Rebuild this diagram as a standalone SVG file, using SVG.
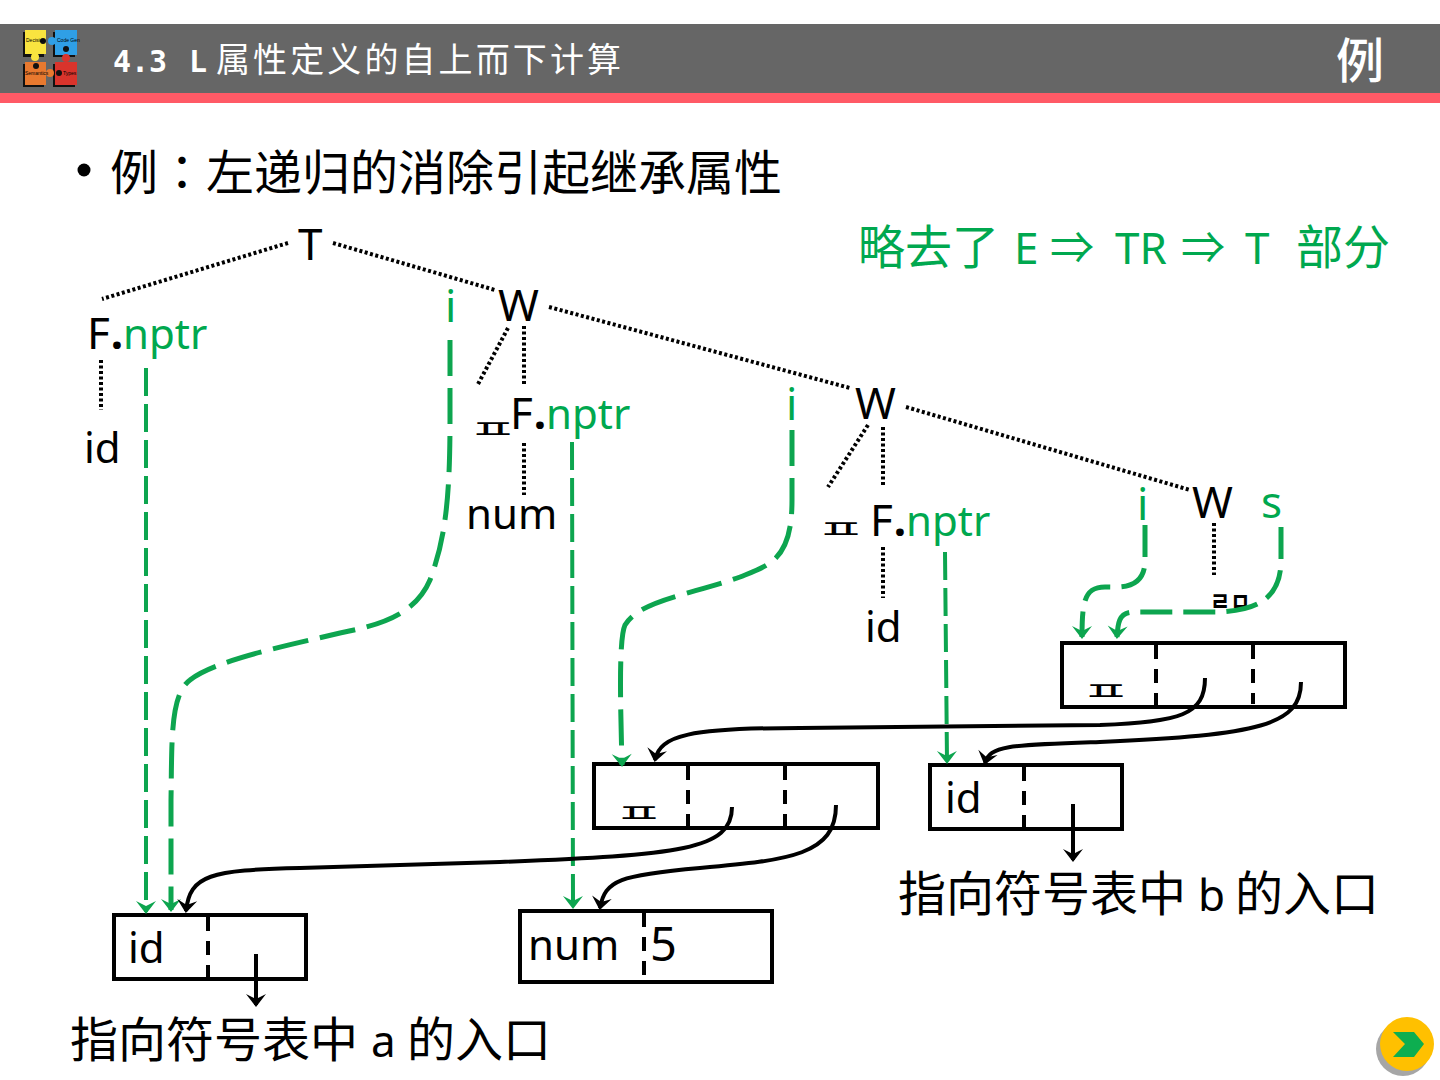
<svg xmlns="http://www.w3.org/2000/svg" width="1440" height="1080" viewBox="0 0 1440 1080">
<style>
text{font-family:"Noto Sans","Noto Sans CJK SC",sans-serif;fill:#000;font-size:44px}
.lc{font-size:42px}
.g{fill:#00a84f}
.cn{font-family:"Noto Sans CJK SC",sans-serif;font-size:48px}
.la{font-family:"Noto Sans",sans-serif;font-size:44px}
.ar{font-family:"Noto Sans CJK SC",sans-serif;font-size:44px}
.pt{font-weight:700}
.pl{font-family:"Noto Sans CJK KR",sans-serif;font-size:54px;font-weight:400}
.lg{font-family:"Liberation Sans",sans-serif;font-size:5px}
.gc{fill:none;stroke:#0da54f;stroke-width:5;stroke-dasharray:36 12}
.gs{fill:none;stroke:#0da54f;stroke-width:4;stroke-dasharray:28 8}
.bc{fill:none;stroke:#000;stroke-width:4}
.dot{fill:none;stroke:#000;stroke-width:4;stroke-dasharray:3 2.5}
.box{fill:#fff;stroke:#000;stroke-width:4}
.dv{fill:none;stroke:#000;stroke-width:4;stroke-dasharray:14 10}
</style>
<defs>
<marker id="ag" markerUnits="userSpaceOnUse" markerWidth="20" markerHeight="20" refX="15" refY="10" orient="auto" viewBox="0 0 20 20" overflow="visible"><path d="M4 0L9 10L4 20L17 10Z" fill="#0da54f"/></marker>
<marker id="ab" markerUnits="userSpaceOnUse" markerWidth="20" markerHeight="20" refX="15" refY="10" orient="auto" viewBox="0 0 20 20" overflow="visible"><path d="M4 0L9 10L4 20L17 10Z" fill="#000"/></marker>
</defs>
<rect width="1440" height="1080" fill="#fff"/>
<g id="header">
<rect y="24" width="1440" height="69" fill="#666"/>
<rect y="93" width="1440" height="10" fill="#ff5a66"/>
<g id="logo">
<path d="M23 32H44V57H23ZM53 32H75V57H53ZM23 64H44V87H23ZM53 64H75V87H53Z" fill="#111"/>
<rect x="25" y="30" width="21" height="24" fill="#f9e43f"/>
<rect x="55" y="30" width="22" height="25" fill="#2f9fe6"/>
<rect x="25" y="62" width="21" height="23" fill="#e8792f"/>
<rect x="55" y="62" width="22" height="23" fill="#d9342c"/>
<circle cx="35" cy="57" r="4" fill="#f9e43f"/><circle cx="52" cy="41" r="4" fill="#2f9fe6"/><circle cx="50" cy="73" r="4" fill="#e8792f"/><circle cx="66" cy="58" r="4" fill="#d9342c"/>
<circle cx="43" cy="41" r="3" fill="#111"/><circle cx="66" cy="49" r="3" fill="#111"/><circle cx="36" cy="66" r="3" fill="#111"/><circle cx="59" cy="73" r="3" fill="#111"/>
<text x="26" y="42" class="lg">Decision</text><text x="57" y="42" class="lg">Code Gen</text><text x="25" y="75" class="lg">Semantics</text><text x="63" y="75" class="lg">Types</text>
</g>
<text y="72" style="font-family:'DejaVu Sans Mono',monospace;font-weight:700;font-size:30px;fill:#fff"><tspan x="113">4.3</tspan><tspan x="189">L</tspan></text>
<text x="216" y="72" style="fill:#fff;font-size:34px;letter-spacing:3.1px;font-family:'Noto Sans CJK SC',sans-serif">属性定义的自上而下计算</text>
<text x="1336" y="78" style="fill:#fff;font-size:48px;font-weight:500;font-family:'Noto Sans CJK SC',sans-serif">例</text>
</g>
<g id="title">
<circle cx="84" cy="170" r="6.5" fill="#000"/>
<text x="110" y="190" class="cn">例<tspan style="font-family:'Noto Sans CJK TC',sans-serif">：</tspan>左递归的消除引起继承属性</text>
<text y="264" class="g" style="font-size:47px"><tspan x="858">略去了</tspan><tspan x="1014" class="la">E</tspan><tspan x="1050" class="ar">⇒</tspan><tspan x="1115" class="la">TR</tspan><tspan x="1181" class="ar">⇒</tspan><tspan x="1245" class="la">T</tspan><tspan x="1296">部分</tspan></text>
</g>
<g id="n-T"><text x="298" y="260">T</text></g>
<g id="n-F1"><text x="87" y="349">F<tspan class="pt" dx="1">.</tspan><tspan x="123" class="g lc">nptr</tspan></text></g>
<g id="n-id1"><text x="84" y="463" class="lc">id</text></g>
<g id="n-i1"><text x="445" y="322" class="g">i</text></g>
<g id="n-W1"><text x="498" y="321">W</text></g>
<g id="n-plus1"><text transform="translate(468 438) scale(1 .455)" class="pl">ㅍ</text></g>
<g id="n-F2"><text x="510" y="429">F<tspan class="pt" dx="1">.</tspan><tspan x="546" class="g lc">nptr</tspan></text></g>
<g id="n-num"><text x="466" y="529" class="lc">num</text></g>
<g id="n-i2"><text x="786" y="420" class="g">i</text></g>
<g id="n-W2"><text x="855" y="419">W</text></g>
<g id="n-plus2"><text transform="translate(816 538) scale(1 .455)" class="pl">ㅍ</text></g>
<g id="n-F3"><text x="870" y="536">F<tspan class="pt" dx="1">.</tspan><tspan x="906" class="g lc">nptr</tspan></text></g>
<g id="n-id2"><text x="865" y="642" class="lc">id</text></g>
<g id="n-i3"><text x="1137" y="520" class="g">i</text></g>
<g id="n-W3"><text x="1192" y="518">W</text></g>
<g id="n-s"><text x="1261" y="518" class="g">s</text></g>
<g id="n-eps"><text transform="translate(1210 612) scale(1 1.25)" style="font-family:'Noto Sans CJK KR',sans-serif;font-size:22px;font-weight:700">ㄹㅁ</text></g>
<g id="box-plus-b">
<rect class="box" x="1062" y="643" width="283" height="64"/>
<path class="dv" d="M1156 645V708M1253 645V704"/>
<text transform="translate(1081 700) scale(1 .455)" class="pl">ㅍ</text>
</g>
<g id="box-plus-a">
<rect class="box" x="594" y="764" width="284" height="64"/>
<path class="dv" d="M688 766V830M785 766V826"/>
<text transform="translate(614 822) scale(1 .455)" class="pl">ㅍ</text>
</g>
<g id="box-id-b">
<rect class="box" x="930" y="765" width="192" height="64"/>
<path class="dv" d="M1024 767V833"/>
<text x="945" y="813" class="lc">id</text>
</g>
<g id="box-id-a">
<rect class="box" x="114" y="915" width="192" height="64"/>
<path class="dv" d="M208 917V983"/>
<text x="128" y="963" class="lc">id</text>
</g>
<g id="box-num">
<rect class="box" x="520" y="911" width="252" height="71"/>
<path class="dv" d="M644 913V984"/>
<text x="528" y="960" class="lc">num</text><text x="650" y="961" style="font-size:47px">5</text>
</g>
<g id="label-b"><text y="911" class="cn"><tspan x="898">指向符号表中</tspan><tspan x="1198" class="la">b</tspan><tspan x="1235">的入口</tspan></text></g>
<g id="label-a"><text y="1057" class="cn"><tspan x="70">指向符号表中</tspan><tspan x="371" class="la">a</tspan><tspan x="407">的入口</tspan></text></g>
<g id="next-button">
<circle cx="1403" cy="1049" r="27" fill="#a6a6a6"/>
<circle cx="1407" cy="1044" r="27" fill="#ffc000"/>
<path d="M1393 1032H1414L1424 1044L1414 1057H1393L1405 1044Z" fill="#0dae50"/>
</g>
<g id="connectors">
<path class="dot" d="M288 243L102 299M333 243L495 290M549 307L850 388M906 407L1190 490M508 328L477 386M524 326V385M868 425L828 487M883 427V485M101 360V410M524 443V495M883 547V598M1214 523V575"/>
<path class="gs" marker-end="url(#ag)" d="M146 368V912"/>
<path class="gc" marker-end="url(#ag)" d="M450 340V420C450 500 445 540 430 580C415 615 380 625 340 633C290 645 215 660 190 680C170 695 172 740 171 800L171 910"/>
<path class="gs" marker-end="url(#ag)" d="M572 442L573 907"/>
<path class="gc" marker-end="url(#ag)" d="M792 430V500C792 560 770 565 740 577C690 595 640 600 625 625C618 640 621 720 622 765"/>
<path class="gs" marker-end="url(#ag)" d="M945 552L947 762"/>
<path class="gc" style="stroke-dasharray:32 11" marker-end="url(#ag)" d="M1145 525V560C1145 590 1120 587 1105 587C1085 587 1082 600 1082 637"/>
<path class="gc" style="stroke-dasharray:32 11" marker-end="url(#ag)" d="M1281 527V560C1281 600 1255 610 1220 612L1135 612C1120 612 1118 620 1117 637"/>
<path class="bc" marker-end="url(#ab)" d="M1205 678C1205 715 1180 722 1100 725L800 728C690 728 660 735 655 760"/>
<path class="bc" marker-end="url(#ab)" d="M1301 682C1301 725 1260 735 1100 742C1010 745 990 745 985 763"/>
<path class="bc" marker-end="url(#ab)" d="M732 807C732 850 680 855 500 862L300 868C210 870 190 875 186 911"/>
<path class="bc" marker-end="url(#ab)" d="M836 805C836 855 790 860 700 868C620 875 605 880 600 908"/>
<path class="bc" marker-end="url(#ab)" d="M256 954V1005"/>
<path class="bc" marker-end="url(#ab)" d="M1073 804V860"/>
</g>
</svg>
